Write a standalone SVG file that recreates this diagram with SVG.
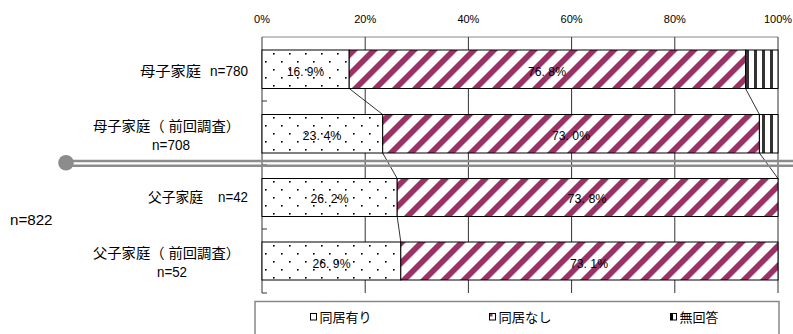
<svg xmlns="http://www.w3.org/2000/svg" width="793" height="334" viewBox="0 0 793 334">
<style>
text{font-family:"Liberation Sans","Noto Sans CJK JP",sans-serif;fill:#000}
.ax{font-size:11px;text-anchor:middle}
.cat{font-size:14px}
.val{font-size:13px;text-anchor:middle}
.leg{font-size:13px}
.grid{stroke:#333;stroke-width:1}
.bar{stroke:#000;stroke-width:1}
.ser{stroke:#000;stroke-width:0.8;fill:none}
.band{stroke:#8c8c8c;stroke-width:2.5}
</style>
<defs>
<pattern id="dots" patternUnits="userSpaceOnUse" x="262" y="50" width="16" height="16">
<rect width="16" height="16" fill="#fff"/>
<rect x="11" y="3" width="1.6" height="1.6" fill="#000"/>
<rect x="3" y="11" width="1.6" height="1.6" fill="#000"/>
</pattern>
<pattern id="hatch" patternUnits="userSpaceOnUse" width="14.14" height="10" patternTransform="rotate(45)">
<rect width="14.14" height="10" fill="#fff"/>
<rect width="5.8" height="10" fill="#993366"/>
</pattern>
<pattern id="vstr" patternUnits="userSpaceOnUse" x="746" y="0" width="8" height="10">
<rect width="8" height="10" fill="#fff"/>
<rect width="3" height="10" fill="#333"/>
</pattern>
</defs>

<g id="axes">
<line x1="262" y1="37" x2="778" y2="37" stroke="#888" stroke-width="1"/>
<line class="grid" x1="365.2" y1="37" x2="365.2" y2="293"/>
<line class="grid" x1="468.4" y1="37" x2="468.4" y2="293"/>
<line class="grid" x1="571.6" y1="37" x2="571.6" y2="293"/>
<line class="grid" x1="674.8" y1="37" x2="674.8" y2="293"/>
<line class="grid" x1="778" y1="37" x2="778" y2="293"/>
<line class="grid" x1="262" y1="37" x2="262" y2="293"/>
<line class="grid" x1="262" y1="101" x2="267" y2="101"/>
<line class="grid" x1="262" y1="165" x2="267" y2="165"/>
<line class="grid" x1="262" y1="229" x2="267" y2="229"/>
<line class="grid" x1="262" y1="293" x2="267" y2="293"/>
<text class="ax" x="262" y="22.5">0%</text>
<text class="ax" x="365.2" y="22.5">20%</text>
<text class="ax" x="468.4" y="22.5">40%</text>
<text class="ax" x="571.6" y="22.5">60%</text>
<text class="ax" x="674.8" y="22.5">80%</text>
<text class="ax" x="778" y="22.5">100%</text>
</g>

<g id="bar-boshi">
<rect class="bar" x="262" y="50" width="87.2" height="38.5" fill="url(#dots)"/>
<rect class="bar" x="349.2" y="50" width="396.3" height="38.5" fill="url(#hatch)"/>
<rect class="bar" x="745.5" y="50" width="32.5" height="38.5" fill="url(#vstr)"/>
<text class="val" x="305.5" y="76" textLength="37" lengthAdjust="spacingAndGlyphs">16. 9%</text>
<text class="val" x="547" y="76" textLength="38" lengthAdjust="spacingAndGlyphs">76. 8%</text>
<text class="cat" y="76"><tspan x="140" textLength="61" lengthAdjust="spacingAndGlyphs">母子家庭</tspan> <tspan x="210" textLength="38" lengthAdjust="spacingAndGlyphs">n=780</tspan></text>
</g>

<g id="bar-boshi-prev">
<rect class="bar" x="262" y="114.5" width="120.7" height="38.5" fill="url(#dots)"/>
<rect class="bar" x="382.7" y="114.5" width="376.7" height="38.5" fill="url(#hatch)"/>
<rect class="bar" x="759.4" y="114.5" width="18.6" height="38.5" fill="url(#vstr)"/>
<text class="val" x="322" y="140" textLength="39" lengthAdjust="spacingAndGlyphs">23. 4%</text>
<text class="val" x="571" y="140" textLength="38" lengthAdjust="spacingAndGlyphs">73. 0%</text>
<text class="cat" x="93" y="131" textLength="147" lengthAdjust="spacingAndGlyphs">母子家庭（ 前回調査）</text>
<text class="cat" x="152" y="149.5" textLength="38" lengthAdjust="spacingAndGlyphs">n=708</text>
</g>

<g id="bar-fushi">
<rect class="bar" x="262" y="178.5" width="135.2" height="38" fill="url(#dots)"/>
<rect class="bar" x="397.2" y="178.5" width="380.8" height="38" fill="url(#hatch)"/>
<text class="val" x="329.5" y="203" textLength="38" lengthAdjust="spacingAndGlyphs">26. 2%</text>
<text class="val" x="587" y="203" textLength="39" lengthAdjust="spacingAndGlyphs">73. 8%</text>
<text class="cat" y="202"><tspan x="148" textLength="55" lengthAdjust="spacingAndGlyphs">父子家庭</tspan> <tspan x="218" textLength="30" lengthAdjust="spacingAndGlyphs">n=42</tspan></text>
</g>

<g id="bar-fushi-prev">
<rect class="bar" x="262" y="242" width="138.8" height="38" fill="url(#dots)"/>
<rect class="bar" x="400.8" y="242" width="377.2" height="38" fill="url(#hatch)"/>
<text class="val" x="331.5" y="268" textLength="38" lengthAdjust="spacingAndGlyphs">26. 9%</text>
<text class="val" x="589" y="268" textLength="38" lengthAdjust="spacingAndGlyphs">73. 1%</text>
<text class="cat" x="93" y="258" textLength="147" lengthAdjust="spacingAndGlyphs">父子家庭（ 前回調査）</text>
<text class="cat" x="157" y="277" textLength="30" lengthAdjust="spacingAndGlyphs">n=52</text>
</g>

<g id="connectors">
<line class="ser" x1="349.2" y1="88.5" x2="382.7" y2="114.5"/>
<line class="ser" x1="745.5" y1="88.5" x2="759.4" y2="114.5"/>
<line class="ser" x1="382.7" y1="153" x2="397.2" y2="178.5"/>
<line class="ser" x1="759.4" y1="153" x2="778" y2="178.5"/>
<line class="ser" x1="397.2" y1="216.5" x2="400.8" y2="242"/>
</g>

<g id="divider">
<line class="band" x1="66" y1="161" x2="793" y2="161"/>
<line class="band" x1="66" y1="165.7" x2="793" y2="165.7"/>
<circle cx="66" cy="162.8" r="7.8" fill="#8c8c8c"/>
</g>

<text x="10" y="225" font-size="15" textLength="42.5" lengthAdjust="spacingAndGlyphs">n=822</text>

<g id="legend">
<rect x="255" y="301.5" width="524" height="40" fill="#fff" stroke="#888" stroke-width="1.5"/>
<rect x="310.5" y="313.5" width="6" height="6.5" fill="#fff" stroke="#000" stroke-width="1"/>
<text class="leg" x="319.5" y="322" textLength="52" lengthAdjust="spacingAndGlyphs">同居有り</text>
<rect x="489.5" y="313.5" width="6" height="6.5" fill="#fff" stroke="#000" stroke-width="1"/>
<rect x="490" y="314" width="2.5" height="2.5" fill="#993366"/>
<text class="leg" x="498.5" y="322" textLength="53" lengthAdjust="spacingAndGlyphs">同居なし</text>
<rect x="670.5" y="313.5" width="6" height="6.5" fill="#fff" stroke="#000" stroke-width="1"/>
<rect x="671" y="314" width="2" height="6" fill="#000"/>
<text class="leg" x="679.5" y="322" textLength="39" lengthAdjust="spacingAndGlyphs">無回答</text>
</g>
</svg>
